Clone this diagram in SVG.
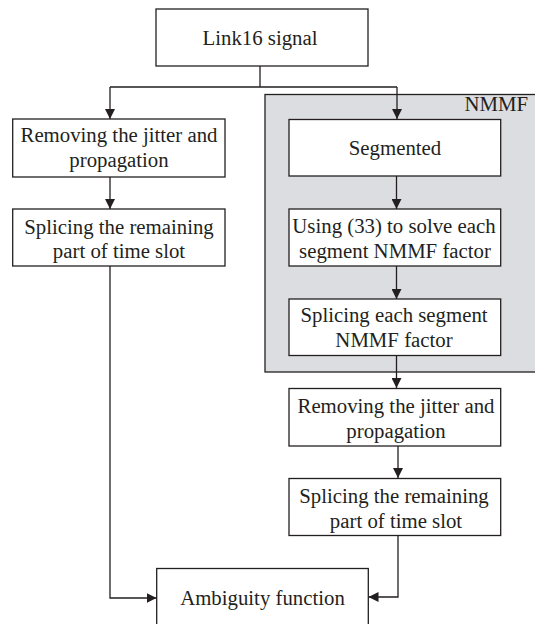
<svg xmlns="http://www.w3.org/2000/svg" width="535" height="624" viewBox="0 0 535 624" font-family="Liberation Serif, Times New Roman, serif">
<defs>
<marker id="ah" viewBox="0 0 10 10" refX="10" refY="5" markerWidth="10" markerHeight="10" markerUnits="userSpaceOnUse" orient="auto">
<path d="M0,0 L10,5 L0,10 z" fill="#231f20"/>
</marker>
<style>
.box{fill:#fff;stroke:#231f20;stroke-width:1.3}
.grp{fill:#dcdde0;stroke:#231f20;stroke-width:1.3}
.t{font-size:20.8px;fill:#231f20;text-anchor:middle}
.c{fill:none;stroke:#231f20;stroke-width:1.3}
</style>
</defs>
<rect width="535" height="624" fill="#fff"/>
<g id="nmmf-group">
<rect class="grp" x="265" y="94.5" width="280" height="277.5"/>
<text class="t" font-family="Liberation Serif, serif" x="528" y="111" style="text-anchor:end">NMMF</text>
</g>
<g id="connectors">
<path class="c" d="M260,66 V87 M110,87 H397"/>
<path class="c" d="M110,87 V119" marker-end="url(#ah)"/>
<path class="c" d="M397,87 V119" marker-end="url(#ah)"/>
<path class="c" d="M110,177 V209" marker-end="url(#ah)"/>
<path class="c" d="M396.5,176 V209" marker-end="url(#ah)"/>
<path class="c" d="M396.5,266 V299" marker-end="url(#ah)"/>
<path class="c" d="M396.5,356 V388" marker-end="url(#ah)"/>
<path class="c" d="M398,446 V478" marker-end="url(#ah)"/>
<path class="c" d="M110,266 V598 H156.5" marker-end="url(#ah)"/>
<path class="c" d="M398,535 V597 H368.5" marker-end="url(#ah)"/>
</g>
<g id="link16">
<rect class="box" x="156" y="9" width="212" height="57"/>
<text class="t" font-family="Liberation Serif, serif" x="260" y="45">Link16 signal</text>
</g>
<g id="left-remove">
<rect class="box" x="12.7" y="119" width="212.3" height="58"/>
<text class="t" font-family="Liberation Serif, serif" x="119" y="142">Removing the jitter and</text>
<text class="t" font-family="Liberation Serif, serif" x="119" y="167">propagation</text>
</g>
<g id="left-splice">
<rect class="box" x="12.7" y="209" width="212.3" height="57"/>
<text class="t" font-family="Liberation Serif, serif" x="119" y="233.5">Splicing the remaining</text>
<text class="t" font-family="Liberation Serif, serif" x="119" y="258">part of time slot</text>
</g>
<g id="segmented">
<rect class="box" x="289" y="119.5" width="211.7" height="56.5"/>
<text class="t" font-family="Liberation Serif, serif" x="395" y="155">Segmented</text>
</g>
<g id="using33">
<rect class="box" x="289" y="209" width="211.7" height="57"/>
<text class="t" font-family="Liberation Serif, serif" x="394" y="233">Using (33) to solve each</text>
<text class="t" font-family="Liberation Serif, serif" x="395" y="258">segment NMMF factor</text>
</g>
<g id="splice-each">
<rect class="box" x="289" y="299" width="211.7" height="56.5"/>
<text class="t" font-family="Liberation Serif, serif" x="394" y="322">Splicing each segment</text>
<text class="t" font-family="Liberation Serif, serif" x="394" y="347">NMMF factor</text>
</g>
<g id="right-remove">
<rect class="box" x="289" y="388.5" width="211.7" height="57.5"/>
<text class="t" font-family="Liberation Serif, serif" x="396" y="413">Removing the jitter and</text>
<text class="t" font-family="Liberation Serif, serif" x="396" y="438">propagation</text>
</g>
<g id="right-splice">
<rect class="box" x="289" y="478.5" width="211.7" height="57"/>
<text class="t" font-family="Liberation Serif, serif" x="394" y="503">Splicing the remaining</text>
<text class="t" font-family="Liberation Serif, serif" x="396" y="527.5">part of time slot</text>
</g>
<g id="ambiguity">
<rect class="box" x="156.7" y="568.5" width="211.6" height="70"/>
<text class="t" font-family="Liberation Serif, serif" x="262.5" y="605">Ambiguity function</text>
</g>
</svg>
